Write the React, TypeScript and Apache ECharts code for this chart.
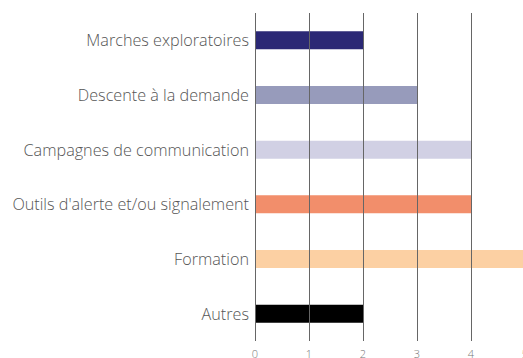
import React, { useEffect, useRef } from "react";
import * as echarts from "echarts";

const categories = [
  "Marches exploratoires",
  "Descente à la demande",
  "Campagnes de communication",
  "Outils d'alerte et/ou signalement",
  "Formation",
  "Autres",
];
const values = [2, 3, 4, 4, 5, 2];
const colors = ["#2b2875", "#979bbb", "#d1d0e4", "#f28e6b", "#fcd0a3", "#000000"];
const xTicks = [0, 1, 2, 3, 4, 5];

export default function App() {
  const ref = useRef<HTMLDivElement>(null);
  useEffect(() => {
    if (!ref.current) return;
    const chart = echarts.init(ref.current, undefined, { renderer: "svg" });
    chart.setOption({
      animation: false,
      grid: {
        left: 255,
        top: 13,
        width: 270,
        height: 328,
        containLabel: false,
        outerBoundsMode: "none",
      },
      xAxis: {
        type: "value",
        min: xTicks[0],
        max: xTicks[xTicks.length - 1],
        interval: 1,
        z: 10,
        axisLine: { show: false },
        axisTick: { show: false },
        splitLine: { show: true, lineStyle: { color: "#666", width: 1 } },
        axisLabel: {
          margin: 7,
          color: "#777",
          fontSize: 11,
          fontFamily: "Open Sans",
          fontWeight: 300,
        },
      },
      yAxis: {
        type: "category",
        data: categories,
        inverse: true,
        axisLine: { show: false },
        axisTick: { show: false },
        axisLabel: {
          margin: 6,
          color: "#555",
          fontSize: 16.2,
          fontFamily: "Open Sans",
          fontWeight: 300,
        },
      },
      series: [
        {
          type: "bar",
          barWidth: 18,
          data: values.map((v, i) => ({ value: v, itemStyle: { color: colors[i] } })),
        },
      ],
    });
    return () => chart.dispose();
  }, []);
  return (
    <div
      ref={ref}
      style={{ position: "absolute", left: 0, top: 0, width: 523, height: 358 }}
    />
  );
}
